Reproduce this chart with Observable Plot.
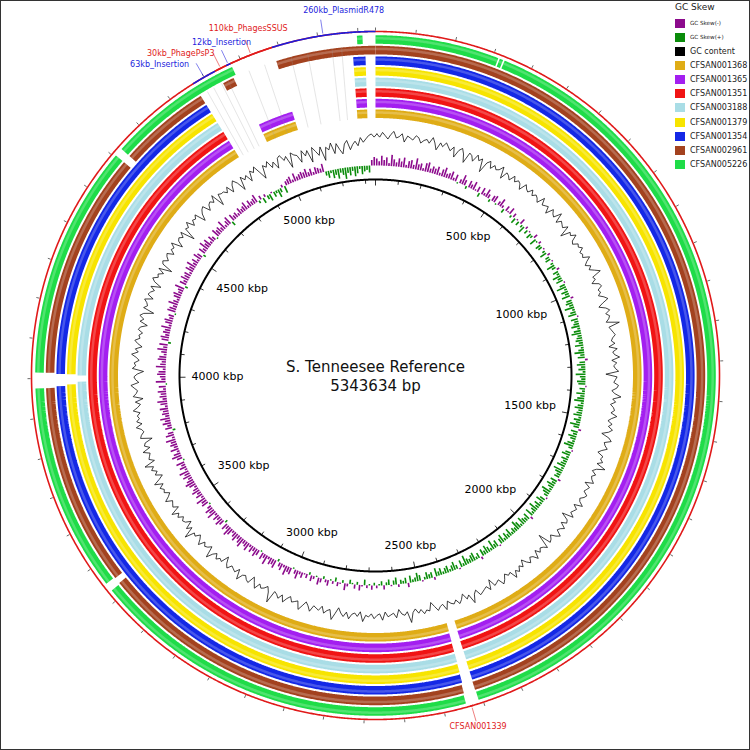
<!DOCTYPE html>
<html><head><meta charset="utf-8">
<script src="https://cdn.jsdelivr.net/npm/d3@7"></script>
<script src="https://cdn.jsdelivr.net/npm/@observablehq/plot@0.6"></script>
<style>
body{margin:0;background:#fff;font-family:"DejaVu Sans",sans-serif;}
#wrap{position:relative;width:750px;height:750px;overflow:hidden;}
#border{position:absolute;left:0;top:0;width:750px;height:750px;box-sizing:border-box;border:1px solid #333;pointer-events:none;}
#legend{position:absolute;left:675px;top:2px;color:#222;}
#legend .title{font-size:9px;height:14px;line-height:11px;}
#legend .row{display:flex;align-items:center;height:14.15px;}
#legend .sw{width:10px;height:9px;margin-right:5px;flex:none;}
#legend .lab{font-size:8px;white-space:nowrap;}
#legend .lab.small{font-size:5.6px;}
</style></head><body>
<div id="wrap"><div id="chart"></div><div id="legend"></div><div id="border"></div></div>
<script>
// ---------------- data ----------------
const genomeLength = 5343634; // bp
const referenceName = "S. Tenneesee Reference";

// rings, outermost first
const strains = ["CFSAN005226","CFSAN002961","CFSAN001354","CFSAN001379","CFSAN003188","CFSAN001351","CFSAN001365","CFSAN001368"];
const strainColors = ["#1fdc48","#a3421f","#1428e6","#f7e400","#a9dde6","#f01414","#a31ff0","#dfac16"];
// regions without BLAST hits, kb
const strainGaps = [
  [[314,318],[327,331],[2410,2443],[3426,3448],[3975,4015],[4606,4627],[4973.6,5297],[5311,5343.634]],
  [[2411,2441],[3429,3445],[3975,4015],[4606,4627],[4868.6,4935],[4965,5083.6]],
  [[2410,2438],[3979,4012],[4868.6,5284],[5317,5343.634]],
  [[2410,2437],[3983,4011],[4868.6,5284],[5317,5343.634]],
  [[2409,2436],[3990,4008],[4868.6,5284],[5317,5343.634]],
  [[2409,2436],[4868.6,5284],[5317,5343.634]],
  [[2408,2435],[4868.6,4973.6],[5083.6,5284],[5317,5343.634]],
  [[2407,2434],[4868.6,4973.6],[5083.6,5284],[5317,5343.634]]
];
// faint low-identity hits inside the large gap, kb
const faintHits = [4884,4903,4926,4944,5004,5047,5118,5162,5226,5251];

// annotations on the outer circle, kb
const annotationNames = ["63kb_Insertion","30kb_PhagePsP3","12kb_Insertion","110kb_PhagesSSUS","260kb_PlasmidR478","CFSAN001339"];
const annotationStart = [4868.6,4931.6,4961.6,4973.6,5083.6,2427];
const annotationEnd   = [4931.6,4961.6,4973.6,5083.6,5343.634,2435];
const annotationType  = ["insertion","phage","insertion","phage","insertion","phage"];

// GC content deviation from mean (% GC), 540 windows
const gcContent = [
 1,-1,2,0,-2,1,3,-1,0,2,-3,1,0,-1,2,1,-2,0,1,-1,3,0,-4,1,-1,2,0,-2,1,-5,
 0,2,-1,-6,1,0,-3,2,-1,1,-7,0,2,-2,1,-1,0,3,-4,1,0,-2,2,-1,1,0,-3,2,0,-1,
 2,-1,1,0,-2,3,-1,0,1,-3,2,0,-1,4,-2,1,0,-1,2,-5,1,0,3,-1,-2,1,0,2,-1,0,
 -1,3,0,-2,1,-1,2,5,-1,0,-3,1,2,-1,0,-2,1,3,-1,-4,0,2,-1,1,0,-2,6,-1,0,1,
 2,0,-1,1,-3,2,-1,0,3,-2,1,-1,0,2,-6,1,0,-1,2,1,-2,0,4,-1,1,-2,0,1,-1,3,
 0,-2,1,-1,2,0,-4,1,3,-1,0,2,-1,-3,1,0,2,-1,5,0,-2,1,-1,0,2,-3,1,0,-1,2,
 1,-1,0,3,-2,1,0,-1,2,-5,0,1,-2,2,0,-1,3,1,-2,0,1,-7,2,0,-1,1,-2,3,0,-1,
 2,0,-3,1,-1,2,0,4,-1,0,-2,1,3,-1,0,1,-4,2,-1,0,1,2,-2,0,5,-1,1,-3,0,2,
 -1,1,0,-2,3,-1,0,2,-1,-4,1,0,2,-1,1,-2,0,6,-1,1,0,-3,2,-1,0,1,-2,3,-1,0,
 2,-1,1,0,4,-2,1,-1,0,3,-1,2,0,-3,1,5,-1,0,2,-2,1,0,-1,3,0,-2,1,4,-1,0,
 1,-2,0,3,-1,2,0,-1,7,1,-2,0,1,-1,3,0,-3,2,1,-1,0,4,-2,1,0,-1,2,0,-4,1,
 0,2,-1,1,5,-2,0,1,-1,3,0,-2,1,0,6,-1,2,-3,0,1,-1,2,0,4,-2,1,0,-1,3,0,
 -2,1,0,2,-1,4,0,-3,1,-1,2,0,5,-2,1,0,-1,3,-2,1,0,-5,2,1,-1,0,3,-1,2,0,
 1,-1,3,0,-2,1,-4,2,0,-1,1,3,-2,0,1,-1,-5,2,0,1,-2,0,3,-1,1,-3,0,2,-1,0,
 -2,1,0,-4,1,-1,2,0,-6,1,-1,0,2,-3,1,0,-2,1,-5,0,2,-1,0,-3,1,-7,0,1,-2,0,
 1,-3,0,-1,2,-5,-1,0,-2,1,-8,0,-1,2,-3,0,-1,1,-6,-2,0,1,-4,-1,0,-2,2,-7,0,-1,
 -1,-3,0,-5,-1,1,-2,-8,0,-3,-1,-6,0,-2,1,-4,-9,-1,-3,0,-5,-2,-7,-1,0,-4,-2,-10,-1,-3,
 -4,-9,-2,-6,-3,-11,-2,-5,-8,-3,-12,-4,-6,-2,-9,-3,-7,-10,-4,-2,-8,-5,-3,-6,-1,-4,-2,0,1,-1
];
// GC skew x100, 540 windows (negative = GC Skew(-))
const gcSkew = [
 -5,-3,-7,-4,-6,-2,-8,-5,-3,-6,-4,-7,-2,-5,-6,-3,-8,-4,-5,-2,-6,-7,-3,-5,-4,-6,-2,-5,-7,-3,
 -4,-6,-2,-5,1,-3,-7,-4,2,-5,-3,-6,-1,-4,3,-5,-2,-6,-3,2,-4,-5,1,-3,-6,-2,3,-4,-1,-5,
 2,-3,4,-1,3,-4,2,5,-2,3,-1,4,2,-3,5,1,-2,4,3,-1,2,5,-2,3,4,-1,2,6,3,-2,
 4,2,6,3,5,-1,4,7,2,5,3,6,-2,4,5,3,7,2,4,6,-1,5,3,4,6,2,5,7,3,4,
 5,3,6,2,4,7,3,5,-2,4,6,3,5,2,7,4,3,6,5,-1,4,2,6,3,5,7,2,4,6,3,
 4,6,2,5,3,7,4,-2,5,3,6,4,2,5,7,3,-1,4,6,2,5,3,4,6,2,7,5,3,4,-2,
 5,3,6,4,2,7,5,3,-1,4,6,2,5,3,7,4,2,6,-2,5,3,4,6,2,5,7,3,4,2,6,
 3,5,2,6,4,-1,5,3,7,2,4,6,3,5,-2,4,2,6,5,3,4,7,2,5,-1,3,6,4,2,5,
 4,2,5,3,6,-2,4,3,5,2,-1,4,6,3,2,5,-3,4,2,3,-2,5,3,-1,4,2,-3,3,1,-2,
 2,-3,1,-2,4,-1,-4,2,-3,1,3,-2,-5,2,-1,-3,3,-2,1,-4,-2,2,-3,-5,1,-2,-4,2,-3,-1,
 -4,-2,-6,-3,1,-5,-4,-7,-2,-5,-3,2,-6,-4,-5,-2,-7,-3,-5,1,-4,-6,-3,-5,-2,-6,-4,-3,-7,-5,
 -3,-6,-4,-2,-5,-7,-3,-5,2,-4,-6,-3,-5,-2,-7,-4,-6,-3,1,-5,-4,-7,-2,-5,-3,-6,-4,-2,-5,-7,
 -5,-3,-6,-4,-7,-2,-5,-3,-6,1,-4,-7,-5,-2,-6,-3,-5,-4,-7,-2,-6,-4,2,-5,-3,-6,-4,-7,-3,-5,
 -4,-6,-2,-5,-7,-3,-5,-4,-6,-2,-5,1,-7,-3,-4,-6,-5,-2,-7,-4,-3,-6,-5,-2,-4,-7,-3,-6,2,-5,
 -6,-3,-5,-4,-7,-2,-5,-6,-3,-4,1,-6,-5,-3,-7,-4,-2,-5,-6,-3,-4,-7,2,-5,-3,-6,-4,-5,-2,-6,
 -4,-7,-3,-5,-2,-6,-4,2,-5,-3,-7,-4,-6,-2,-5,-3,1,-6,-4,-5,-3,-7,-2,-4,-6,3,-5,-3,-4,-2,
 -5,-3,-4,-6,-2,-5,-3,-4,-6,2,-3,4,-2,3,5,-1,4,2,6,3,-2,5,-3,-4,-5,-2,-6,-3,-4,-5,
 -4,-6,-3,-5,-2,-5,-4,-3,-6,3,5,2,6,4,7,3,5,8,4,6,3,7,5,2,6,4,3,5,-4,-6
];
const gcSkewNegColor = "#8c0a8c";
const gcSkewPosColor = "#0a8c0a";

// ---------------- layout ----------------
const Lkb = genomeLength / 1000;
const TAU = 2 * Math.PI;
const polar = (kb, r) => { const t = kb / Lkb * TAU; return [r * Math.sin(t), r * Math.cos(t)]; };
const ringOuterCenter = 336, ringPitch = 10.6, ringWidth = 8.6;
const outerR = 344, innerR = 196, gcBase = 240, gcK = 1.6, skewBase = 210, skewK = 1.4;
const typeColor = {insertion: "#1c1cdc", phage: "#e01a1a"};
// label placement relative to pointer end (screen px)
const annLayout = [
  {dx: -7, dy: 1, anchor: "end"},
  {dx: 1, dy: -1, anchor: "end"},
  {dx: 0, dy: -8, anchor: "middle"},
  {dx: 3, dy: -11, anchor: "middle"},
  {dx: 23, dy: -9, anchor: "middle"},
  {dx: 2, dy: 5, anchor: "middle"}
];

function arcPoints(a, b, r, id) {
  const n = Math.max(2, Math.ceil((b - a) / Lkb * 360 / 0.2) + 1);
  const pts = [];
  for (let j = 0; j < n; j++) {
    const kb = a + (b - a) * j / (n - 1);
    const [x, y] = polar(kb, r);
    pts.push({x, y, id});
  }
  return pts;
}
function segmentsFromGaps(gaps) {
  const s = gaps.slice().sort((p, q) => p[0] - q[0]);
  const segs = []; let cur = 0;
  for (const [a, b] of s) { if (a > cur) segs.push([cur, a]); cur = Math.max(cur, b); }
  if (cur < Lkb) segs.push([cur, Lkb]);
  return segs;
}

const marks = [];

// rings
strains.forEach((name, i) => {
  const rc = ringOuterCenter - i * ringPitch;
  const segs = segmentsFromGaps(strainGaps[i]);
  marks.push(Plot.line(segs.flatMap(([a, b], j) => arcPoints(a, b, rc, j)), {x: "x", y: "y", z: "id", stroke: strainColors[i], strokeWidth: ringWidth, strokeLinecap: "butt", strokeLinejoin: "miter"}));
  marks.push(Plot.line(segs.flatMap(([a, b], j) => arcPoints(a, b, rc + 1.2, j)), {x: "x", y: "y", z: "id", stroke: "white", strokeOpacity: 0.22, strokeWidth: 2.5, strokeLinecap: "butt"}));
});

// faint hits
marks.push(Plot.link(faintHits, {
  x1: d => polar(d, 257)[0], y1: d => polar(d, 257)[1],
  x2: d => polar(d + 5, 330)[0], y2: d => polar(d + 5, 330)[1],
  stroke: "#999", strokeWidth: 0.5, strokeOpacity: 0.5
}));

// GC content
const winKb = Lkb / gcContent.length;
const gcPts = gcContent.map((v, i) => { const [x, y] = polar((i + 0.5) * winKb, gcBase + v * gcK); return {x, y}; });
gcPts.push(gcPts[0]);
marks.push(Plot.line(gcPts, {x: "x", y: "y", stroke: "black", strokeWidth: 0.75, curve: "linear"}));

// GC skew spikes
const skewKb = Lkb / gcSkew.length;
const skewData = gcSkew.map((v, i) => ({kb: (i + 0.5) * skewKb, v}));
const skewLink = (data, color) => Plot.link(data, {
  x1: d => polar(d.kb, skewBase)[0], y1: d => polar(d.kb, skewBase)[1],
  x2: d => polar(d.kb, skewBase - d.v * skewK)[0], y2: d => polar(d.kb, skewBase - d.v * skewK)[1],
  stroke: color, strokeWidth: 1.6
});
marks.push(skewLink(skewData.filter(d => d.v < 0), gcSkewNegColor));
marks.push(skewLink(skewData.filter(d => d.v > 0), gcSkewPosColor));

// inner backbone circle + ticks
marks.push(Plot.line(arcPoints(0, Lkb, innerR, 0), {x: "x", y: "y", stroke: "black", strokeWidth: 2}));
const ticks100 = d3.range(0, Lkb, 100);
marks.push(Plot.link(ticks100, {
  x1: d => polar(d, innerR)[0], y1: d => polar(d, innerR)[1],
  x2: d => polar(d, innerR - (d % 500 === 0 ? 6 : 4))[0], y2: d => polar(d, innerR - (d % 500 === 0 ? 6 : 4))[1],
  stroke: "black", strokeWidth: 0.8
}));
const tickLabels = d3.range(500, Lkb, 500);
const labelFont = 11;
const labelPos = d => {
  const t = d / Lkb * TAU;
  const txt = `${d} kbp`;
  const w = (txt.length - 4) * 0.636 * labelFont + 0.318 * labelFont + 1.85 * labelFont;
  const h = labelFont * 1.0;
  const off = w / 2 * Math.abs(Math.sin(t)) + h / 2 * Math.abs(Math.cos(t));
  return polar(d, innerR - 12 - off);
};
marks.push(Plot.text(tickLabels, {x: d => labelPos(d)[0], y: d => labelPos(d)[1], text: d => `${d} kbp`, fontSize: labelFont, fill: "black"}));

// outer circle, annotations, ticks
marks.push(Plot.line(arcPoints(0, Lkb, outerR, 0), {x: "x", y: "y", stroke: "#e01a1a", strokeWidth: 1.6}));
annotationNames.forEach((n, i) => {
  marks.push(Plot.line(arcPoints(annotationStart[i], annotationEnd[i], outerR, i), {x: "x", y: "y", stroke: typeColor[annotationType[i]], strokeWidth: 1.6, strokeLinecap: "butt"}));
});
marks.push(Plot.link(ticks100, {
  x1: d => polar(d, outerR + 1)[0], y1: d => polar(d, outerR + 1)[1],
  x2: d => polar(d, outerR + 4)[0], y2: d => polar(d, outerR + 4)[1],
  stroke: "#444", strokeWidth: 0.8
}));
annotationNames.forEach((n, i) => {
  const mid = (annotationStart[i] + annotationEnd[i]) / 2;
  const c = typeColor[annotationType[i]];
  marks.push(Plot.link([mid], {
    x1: d => polar(d, outerR + 2)[0], y1: d => polar(d, outerR + 2)[1],
    x2: d => polar(d, outerR + 16)[0], y2: d => polar(d, outerR + 16)[1],
    stroke: c, strokeWidth: 0.7, strokeOpacity: 0.8
  }));
  const L = annLayout[i];
  marks.push(Plot.text([mid], {
    x: d => polar(d, outerR + 16)[0], y: d => polar(d, outerR + 16)[1],
    dx: L.dx, dy: L.dy, textAnchor: L.anchor, text: () => n, fill: c, fontSize: 8
  }));
});

// centre title
marks.push(Plot.text([`${referenceName}\n${genomeLength} bp`], {x: () => 0, y: () => 0, text: d => d, fontSize: 15, lineHeight: 1.3, fill: "#111"}));

const chart = Plot.plot({
  width: 750, height: 750, margin: 0,
  x: {domain: [-375, 375], axis: null},
  y: {domain: [-375, 375], axis: null},
  style: {background: "white", fontFamily: "DejaVu Sans, sans-serif"},
  marks
});
document.getElementById("chart").appendChild(chart);

// legend
const legendLabels = ["GC Skew(-)", "GC Skew(+)", "GC content", ...strains.slice().reverse()];
const legendColors = [gcSkewNegColor, gcSkewPosColor, "#000000", ...strainColors.slice().reverse()];
const lg = document.getElementById("legend");
lg.innerHTML = `<div class="title">GC Skew</div>` + legendLabels.map((l, i) =>
  `<div class="row"><div class="sw" style="background:${legendColors[i]}"></div><div class="lab${i < 2 ? " small" : ""}">${l}</div></div>`).join("");
</script>
</body></html>
